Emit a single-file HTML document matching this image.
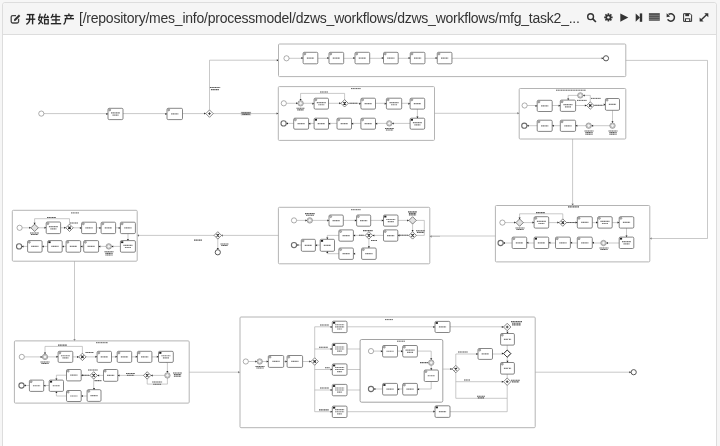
<!DOCTYPE html>
<html><head><meta charset="utf-8">
<style>
html,body{margin:0;padding:0;background:#f6f6f6;width:720px;height:446px;overflow:hidden}
body{font-family:"Liberation Sans",sans-serif;position:relative}
.panel{position:absolute;left:2px;top:2px;width:713px;height:460px;border:1px solid #ddd;border-radius:3px;background:#fff}
.hd{position:absolute;left:0;top:0;right:0;height:31px;background:#f5f5f5;border-bottom:1px solid #ddd;border-radius:3px 3px 0 0}
.title{position:absolute;left:78.6px;top:10.4px;font-size:14px;color:#333;white-space:nowrap;letter-spacing:-0.235px;will-change:transform}
svg{position:absolute;left:0;top:0}
</style></head><body>
<div class="panel"><div class="hd"></div></div>
<div class="title">[/repository/mes_info/processmodel/dzws_workflows/dzws_workflows/mfg_task2_...</div>
<svg width="720" height="446" viewBox="0 0 720 446">
<defs><marker id="ar" viewBox="0 0 10 10" refX="9" refY="5" markerWidth="1.8" markerHeight="1.8" markerUnits="userSpaceOnUse" orient="auto"><path d="M0,0L10,5L0,10z" fill="#222"/></marker></defs>

<g fill="none" stroke="#333" stroke-linecap="butt">
<!-- edit icon -->
<path d="M18.6,18.8 V21.6 Q18.6,23 17.2,23 H12.6 Q11.2,23 11.2,21.6 V17 Q11.2,15.6 12.6,15.6 H16" stroke="#444" stroke-width="1.3"/>
<path d="M14.6,20.3 L19.6,15.3" stroke="#333" stroke-width="2"/>
<path d="M13.9,21.3 L14.3,19.7 L15.3,20.7 Z" fill="#333" stroke="none"/>
<!-- 开 -->
<g stroke-width="1.4" stroke="#262626">
<path d="M26.8,14.6 H34.4"/>
<path d="M25.9,19.2 H35.3"/>
<path d="M29.7,14.6 V19.5 Q29.5,22.6 26.4,24.3"/>
<path d="M32.6,14.6 V24.4"/>
</g>
<!-- 始 -->
<g stroke-width="1.3" stroke="#262626">
<path d="M40.2,13.6 Q39.6,17.5 38.6,19.8 Q41.5,21.5 43,24"/>
<path d="M41.8,16.6 Q41.6,21.6 38.4,24.2"/>
<path d="M38.1,17.2 H43.4"/>
<path d="M45.6,13.7 L44.1,17.8 L48.4,17.4"/>
<path d="M47.2,15.6 L48.5,17.8"/>
<path d="M44.6,19.6 H48.2 V23.8 H44.6 Z"/>
</g>
<!-- 生 -->
<g stroke-width="1.35" stroke="#262626">
<path d="M53,13.8 Q52.4,16.4 50.9,18"/>
<path d="M52.2,16.6 H60.3"/>
<path d="M51.7,19.9 H60"/>
<path d="M50.8,23.7 H61.2"/>
<path d="M56,13.7 V23.7"/>
</g>
<!-- 产 -->
<g stroke-width="1.35" stroke="#262626">
<path d="M68.6,13.4 L69.2,15"/>
<path d="M64.3,15.6 H73.5"/>
<path d="M66.4,16.3 L67.2,18"/>
<path d="M71.3,16.3 L70.4,18"/>
<path d="M64.8,18.7 H74"/>
<path d="M65.5,18.7 V21 Q65.3,23 63.6,24.4"/>
</g>
</g>
<g fill="#333" stroke="none">
<!-- search -->
<circle cx="590.6" cy="16.7" r="2.9" fill="none" stroke="#333" stroke-width="1.4"/>
<path d="M592.6,18.7 L595.9,22" stroke="#333" stroke-width="1.7" fill="none"/>
<!-- gear -->
<g transform="translate(608.4,17.4)">
<circle r="2.9"/>
<g stroke="#333" stroke-width="1.6">
<path d="M0,-4.2V4.2M-4.2,0H4.2M-3,-3L3,3M3,-3L-3,3"/>
</g>
<circle r="1.2" fill="#f5f5f5"/>
</g>
<!-- play -->
<path d="M620.3,13.4 L628.3,17.6 L620.3,21.8 Z"/>
<!-- step forward -->
<path d="M635.7,13.4 L640,17.6 L635.7,21.8 Z"/>
<rect x="639.8" y="13.4" width="2.4" height="8.4"/>
<!-- list -->
<rect x="648.9" y="13.1" width="10.9" height="7.7" fill="#555"/>
<g fill="#999"><rect x="648.9" y="15" width="10.9" height="0.45"/><rect x="648.9" y="17" width="10.9" height="0.45"/><rect x="648.9" y="19" width="10.9" height="0.45"/></g>
<!-- undo -->
<path d="M668.6,14.4 A3.7,3.7 0 1 1 667.6,19.4" fill="none" stroke="#333" stroke-width="1.5"/>
<path d="M666.6,13.2 L670.2,16.4 L666.6,17.2 Z"/>
<!-- save -->
<path d="M683.6,13.7 H690.2 L691.6,15.1 V21.4 H683.6 Z" fill="none" stroke="#333" stroke-width="1.0"/>
<rect x="685.3" y="13.8" width="3.8" height="2.4"/>
<rect x="684.9" y="18.3" width="5.4" height="3" fill="#333"/>
<rect x="686" y="19.2" width="3.2" height="1.8" fill="#f5f5f5"/>
<!-- expand -->
<path d="M700.8,20.3 L707.1,14.3" stroke="#333" stroke-width="1.4" fill="none"/>
<path d="M708.3,13.2 L708.3,17.2 L704.3,13.2 Z"/>
<path d="M699.6,21.4 L699.6,17.4 L703.6,21.4 Z"/>
</g>
<polyline points="43.80,113.60 108.00,113.60" fill="none" stroke="#a4a4a4" stroke-width="0.6"/>
<polyline points="123.00,113.60 167.00,113.60" fill="none" stroke="#a4a4a4" stroke-width="0.6"/>
<polyline points="182.50,113.60 206.30,113.60" fill="none" stroke="#a4a4a4" stroke-width="0.6"/>
<polyline points="209.50,110.30 209.50,60.20 278.50,60.20" fill="none" stroke="#a4a4a4" stroke-width="0.6"/>
<polyline points="212.80,113.60 278.30,113.60" fill="none" stroke="#a4a4a4" stroke-width="0.6"/>
<circle cx="41.30" cy="113.60" r="2.6" fill="#fff" stroke="#777" stroke-width="0.6"/>
<rect x="108.00" y="108.30" width="15.00" height="11.30" rx="1.2" fill="#fff" stroke="#5e5e5e" stroke-width="0.75"/>
<polygon points="108.00,113.95 106.30,112.93 106.30,114.97" fill="#222"/>
<circle cx="109.70" cy="109.90" r="1.0" fill="#bbb" stroke="#777" stroke-width="0.6"/>
<path d="M111.00,112.85h9.00" stroke="#7c7c7c" stroke-width="1.20" stroke-dasharray="1.3 0.35"/>
<path d="M112.50,115.05h6.00" stroke="#7c7c7c" stroke-width="1.20" stroke-dasharray="1.3 0.35"/>
<rect x="167.00" y="108.30" width="15.50" height="11.30" rx="1.2" fill="#fff" stroke="#5e5e5e" stroke-width="0.75"/>
<polygon points="167.00,113.95 165.30,112.93 165.30,114.97" fill="#222"/>
<circle cx="168.70" cy="109.90" r="1.0" fill="#bbb" stroke="#777" stroke-width="0.6"/>
<path d="M171.15,113.95h7.20" stroke="#7c7c7c" stroke-width="1.20" stroke-dasharray="1.3 0.35"/>
<polygon points="205.80,113.60 204.10,112.58 204.10,114.62" fill="#222"/>
<polygon points="209.50,109.90 213.20,113.60 209.50,117.30 205.80,113.60" fill="#fff" stroke="#555" stroke-width="0.7"/>
<path d="M208.20,113.60L210.80,113.60M209.50,112.30L209.50,114.90" stroke="#333" stroke-width="0.9"/>
<path d="M209.90,87.45h10.30" stroke="#5c5c5c" stroke-width="1.08" stroke-dasharray="1.3 0.35"/>
<path d="M210.93,89.65h8.24" stroke="#5c5c5c" stroke-width="1.08" stroke-dasharray="1.3 0.35"/>
<rect x="240.8" y="111.8" width="10.3" height="3.6" fill="#c6c6c6"/>
<path d="M241.50,112.85h9.00" stroke="#5c5c5c" stroke-width="1.08" stroke-dasharray="1.3 0.35"/>
<path d="M242.40,114.35h7.20" stroke="#5c5c5c" stroke-width="1.08" stroke-dasharray="1.3 0.35"/>
<polygon points="278.50,60.20 276.80,59.18 276.80,61.22" fill="#222"/>
<polygon points="278.30,113.60 276.60,112.58 276.60,114.62" fill="#222"/>
<polygon points="519.20,113.30 517.50,112.28 517.50,114.32" fill="#222"/>
<polygon points="240.00,372.20 238.30,371.18 238.30,373.22" fill="#222"/>
<polygon points="649.80,238.50 651.50,237.48 651.50,239.52" fill="#222"/>
<polygon points="429.80,236.40 431.50,235.38 431.50,237.42" fill="#222"/>
<polygon points="137.30,235.40 139.00,234.38 139.00,236.42" fill="#222"/>
<polygon points="221.10,235.40 222.80,234.38 222.80,236.42" fill="#222"/>
<polygon points="74.50,340.90 73.48,339.20 75.52,339.20" fill="#222"/>
<polygon points="572.60,205.50 571.58,203.80 573.62,203.80" fill="#222"/>
<rect x="278.50" y="44.00" width="347.30" height="32.60" rx="1" fill="none" stroke="#b4b4b4" stroke-width="1.0"/>
<polyline points="289.00,58.30 603.40,58.30" fill="none" stroke="#a4a4a4" stroke-width="0.6"/>
<circle cx="286.50" cy="58.30" r="2.6" fill="#fff" stroke="#777" stroke-width="0.6"/>
<rect x="303.10" y="52.30" width="14.70" height="11.50" rx="1.2" fill="#fff" stroke="#5e5e5e" stroke-width="0.75"/>
<polygon points="303.10,58.05 301.40,57.03 301.40,59.07" fill="#222"/>
<circle cx="304.80" cy="53.90" r="1.0" fill="#bbb" stroke="#777" stroke-width="0.6"/>
<path d="M306.85,58.05h7.20" stroke="#7c7c7c" stroke-width="1.20" stroke-dasharray="1.3 0.35"/>
<rect x="329.00" y="52.30" width="14.70" height="11.50" rx="1.2" fill="#fff" stroke="#5e5e5e" stroke-width="0.75"/>
<polygon points="329.00,58.05 327.30,57.03 327.30,59.07" fill="#222"/>
<circle cx="330.70" cy="53.90" r="1.0" fill="#bbb" stroke="#777" stroke-width="0.6"/>
<path d="M332.75,58.05h7.20" stroke="#7c7c7c" stroke-width="1.20" stroke-dasharray="1.3 0.35"/>
<rect x="355.00" y="52.30" width="14.70" height="11.50" rx="1.2" fill="#fff" stroke="#5e5e5e" stroke-width="0.75"/>
<polygon points="355.00,58.05 353.30,57.03 353.30,59.07" fill="#222"/>
<circle cx="356.70" cy="53.90" r="1.0" fill="#bbb" stroke="#777" stroke-width="0.6"/>
<path d="M358.75,58.05h7.20" stroke="#7c7c7c" stroke-width="1.20" stroke-dasharray="1.3 0.35"/>
<rect x="383.50" y="52.30" width="14.70" height="11.50" rx="1.2" fill="#fff" stroke="#5e5e5e" stroke-width="0.75"/>
<polygon points="383.50,58.05 381.80,57.03 381.80,59.07" fill="#222"/>
<circle cx="385.20" cy="53.90" r="1.0" fill="#bbb" stroke="#777" stroke-width="0.6"/>
<path d="M387.25,58.05h7.20" stroke="#7c7c7c" stroke-width="1.20" stroke-dasharray="1.3 0.35"/>
<rect x="410.25" y="52.30" width="14.70" height="11.50" rx="1.2" fill="#fff" stroke="#5e5e5e" stroke-width="0.75"/>
<polygon points="410.25,58.05 408.55,57.03 408.55,59.07" fill="#222"/>
<circle cx="411.95" cy="53.90" r="1.0" fill="#bbb" stroke="#777" stroke-width="0.6"/>
<path d="M414.00,58.05h7.20" stroke="#7c7c7c" stroke-width="1.20" stroke-dasharray="1.3 0.35"/>
<rect x="437.25" y="52.30" width="14.70" height="11.50" rx="1.2" fill="#fff" stroke="#5e5e5e" stroke-width="0.75"/>
<polygon points="437.25,58.05 435.55,57.03 435.55,59.07" fill="#222"/>
<circle cx="438.95" cy="53.90" r="1.0" fill="#bbb" stroke="#777" stroke-width="0.6"/>
<path d="M441.00,58.05h7.20" stroke="#7c7c7c" stroke-width="1.20" stroke-dasharray="1.3 0.35"/>
<polygon points="603.40,58.30 601.70,57.28 601.70,59.32" fill="#222"/>
<circle cx="606.00" cy="58.30" r="2.6" fill="#fff" stroke="#555" stroke-width="1.0"/>
<polyline points="625.80,60.40 707.50,60.40 707.50,238.50 649.80,238.50" fill="none" stroke="#a4a4a4" stroke-width="0.6"/>
<rect x="278.30" y="86.60" width="156.20" height="53.80" rx="1" fill="none" stroke="#b4b4b4" stroke-width="1.0"/>
<polyline points="286.40,103.30 410.10,103.30" fill="none" stroke="#a4a4a4" stroke-width="0.6"/>
<polyline points="300.60,100.60 300.60,93.40 344.60,93.40 344.60,100.00" fill="none" stroke="#a4a4a4" stroke-width="0.6"/>
<polyline points="286.40,123.40 410.10,123.40" fill="none" stroke="#a4a4a4" stroke-width="0.6"/>
<polyline points="417.40,109.10 417.40,118.20" fill="none" stroke="#a4a4a4" stroke-width="0.6"/>
<polyline points="434.50,113.30 519.20,113.30" fill="none" stroke="#a4a4a4" stroke-width="0.6"/>
<circle cx="283.80" cy="103.30" r="2.6" fill="#fff" stroke="#777" stroke-width="0.6"/>
<polygon points="297.90,103.30 296.20,102.28 296.20,104.32" fill="#222"/>
<circle cx="300.60" cy="103.30" r="2.7" fill="#f4f4f4" stroke="#6c6c6c" stroke-width="0.6"/>
<circle cx="300.60" cy="103.30" r="1.8000000000000003" fill="none" stroke="#888" stroke-width="0.5"/>
<polygon points="300.60,100.60 299.58,98.90 301.62,98.90" fill="#222"/>
<path d="M296.50,108.25h8.00" stroke="#5c5c5c" stroke-width="1.08" stroke-dasharray="1.3 0.35"/>
<path d="M297.30,109.85h6.40" stroke="#5c5c5c" stroke-width="1.08" stroke-dasharray="1.3 0.35"/>
<rect x="314.10" y="98.20" width="14.40" height="10.90" rx="1.2" fill="#fff" stroke="#5e5e5e" stroke-width="0.75"/>
<polygon points="314.10,103.65 312.40,102.63 312.40,104.67" fill="#222"/>
<circle cx="315.80" cy="99.80" r="1.0" fill="#bbb" stroke="#777" stroke-width="0.6"/>
<path d="M316.80,102.55h9.00" stroke="#7c7c7c" stroke-width="1.20" stroke-dasharray="1.3 0.35"/>
<path d="M318.30,104.75h6.00" stroke="#7c7c7c" stroke-width="1.20" stroke-dasharray="1.3 0.35"/>
<polygon points="340.90,103.30 339.20,102.28 339.20,104.32" fill="#222"/>
<polygon points="344.60,99.60 348.30,103.30 344.60,107.00 340.90,103.30" fill="#fff" stroke="#555" stroke-width="0.7"/>
<path d="M343.40,102.10L345.80,104.50M345.80,102.10L343.40,104.50" stroke="#222" stroke-width="1.1"/>
<path d="M320.00,92.05h8.00" stroke="#5c5c5c" stroke-width="1.08" stroke-dasharray="1.3 0.35"/>
<path d="M349.50,103.25h8.00" stroke="#5c5c5c" stroke-width="1.08" stroke-dasharray="1.3 0.35"/>
<rect x="360.90" y="98.20" width="14.60" height="10.90" rx="1.2" fill="#fff" stroke="#5e5e5e" stroke-width="0.75"/>
<polygon points="360.90,103.65 359.20,102.63 359.20,104.67" fill="#222"/>
<circle cx="362.60" cy="99.80" r="1.0" fill="#bbb" stroke="#777" stroke-width="0.6"/>
<path d="M364.60,103.65h7.20" stroke="#7c7c7c" stroke-width="1.20" stroke-dasharray="1.3 0.35"/>
<rect x="386.40" y="98.20" width="15.30" height="10.90" rx="1.2" fill="#fff" stroke="#5e5e5e" stroke-width="0.75"/>
<polygon points="386.40,103.65 384.70,102.63 384.70,104.67" fill="#222"/>
<circle cx="388.10" cy="99.80" r="1.0" fill="#bbb" stroke="#777" stroke-width="0.6"/>
<path d="M389.55,102.55h9.00" stroke="#7c7c7c" stroke-width="1.20" stroke-dasharray="1.3 0.35"/>
<path d="M391.05,104.75h6.00" stroke="#7c7c7c" stroke-width="1.20" stroke-dasharray="1.3 0.35"/>
<rect x="410.10" y="98.20" width="14.60" height="10.90" rx="1.2" fill="#fff" stroke="#5e5e5e" stroke-width="0.75"/>
<polygon points="410.10,103.65 408.40,102.63 408.40,104.67" fill="#222"/>
<circle cx="411.80" cy="99.80" r="1.0" fill="#bbb" stroke="#777" stroke-width="0.6"/>
<path d="M413.80,103.65h7.20" stroke="#7c7c7c" stroke-width="1.20" stroke-dasharray="1.3 0.35"/>
<circle cx="283.60" cy="123.40" r="2.6" fill="#fff" stroke="#6c6c6c" stroke-width="1.1"/>
<polygon points="286.30,123.40 288.00,122.38 288.00,124.42" fill="#222"/>
<rect x="293.70" y="118.20" width="14.90" height="11.00" rx="1.2" fill="#fff" stroke="#5e5e5e" stroke-width="0.75"/>
<polygon points="308.60,123.70 310.30,122.68 310.30,124.72" fill="#222"/>
<circle cx="295.40" cy="119.80" r="1.0" fill="#bbb" stroke="#777" stroke-width="0.6"/>
<path d="M297.55,123.70h7.20" stroke="#7c7c7c" stroke-width="1.20" stroke-dasharray="1.3 0.35"/>
<rect x="314.10" y="118.20" width="14.40" height="11.00" rx="1.2" fill="#fff" stroke="#5e5e5e" stroke-width="0.75"/>
<polygon points="328.50,123.70 330.20,122.68 330.20,124.72" fill="#222"/>
<rect x="314.80" y="118.90" width="2.2" height="1.8" fill="#222"/>
<path d="M317.70,123.70h7.20" stroke="#7c7c7c" stroke-width="1.20" stroke-dasharray="1.3 0.35"/>
<rect x="337.00" y="118.20" width="14.50" height="11.00" rx="1.2" fill="#fff" stroke="#5e5e5e" stroke-width="0.75"/>
<polygon points="351.50,123.70 353.20,122.68 353.20,124.72" fill="#222"/>
<circle cx="338.70" cy="119.80" r="1.0" fill="#bbb" stroke="#777" stroke-width="0.6"/>
<path d="M340.65,123.70h7.20" stroke="#7c7c7c" stroke-width="1.20" stroke-dasharray="1.3 0.35"/>
<rect x="360.90" y="118.20" width="14.60" height="11.00" rx="1.2" fill="#fff" stroke="#5e5e5e" stroke-width="0.75"/>
<polygon points="375.50,123.70 377.20,122.68 377.20,124.72" fill="#222"/>
<circle cx="362.60" cy="119.80" r="1.0" fill="#bbb" stroke="#777" stroke-width="0.6"/>
<path d="M364.60,123.70h7.20" stroke="#7c7c7c" stroke-width="1.20" stroke-dasharray="1.3 0.35"/>
<polygon points="392.00,123.40 393.70,122.38 393.70,124.42" fill="#222"/>
<circle cx="389.30" cy="123.40" r="2.7" fill="#f4f4f4" stroke="#6c6c6c" stroke-width="0.6"/>
<circle cx="389.30" cy="123.40" r="1.8000000000000003" fill="none" stroke="#888" stroke-width="0.5"/>
<path d="M385.00,128.45h9.00" stroke="#5c5c5c" stroke-width="1.08" stroke-dasharray="1.3 0.35"/>
<path d="M385.90,130.05h7.20" stroke="#5c5c5c" stroke-width="1.08" stroke-dasharray="1.3 0.35"/>
<rect x="410.10" y="118.20" width="14.60" height="11.00" rx="1.2" fill="#fff" stroke="#5e5e5e" stroke-width="0.75"/>
<polygon points="417.40,118.20 416.38,116.50 418.42,116.50" fill="#222"/>
<rect x="410.80" y="118.90" width="2.2" height="1.8" fill="#222"/>
<path d="M412.90,122.60h9.00" stroke="#7c7c7c" stroke-width="1.20" stroke-dasharray="1.3 0.35"/>
<path d="M414.40,124.80h6.00" stroke="#7c7c7c" stroke-width="1.20" stroke-dasharray="1.3 0.35"/>
<path d="M351.00,88.60h10.00" stroke="#5c5c5c" stroke-width="0.96" stroke-dasharray="1.3 0.35"/>
<rect x="519.20" y="88.50" width="106.60" height="50.50" rx="1" fill="none" stroke="#b4b4b4" stroke-width="1.0"/>
<polyline points="527.20,105.50 605.40,105.50" fill="none" stroke="#a4a4a4" stroke-width="0.6"/>
<polyline points="568.20,100.10 568.20,95.40 590.30,95.40 590.30,102.40" fill="none" stroke="#a4a4a4" stroke-width="0.6"/>
<polyline points="527.00,125.70 612.50,125.70" fill="none" stroke="#a4a4a4" stroke-width="0.6"/>
<polyline points="612.50,110.30 612.50,123.00" fill="none" stroke="#a4a4a4" stroke-width="0.6"/>
<polyline points="572.60,139.00 572.60,205.50" fill="none" stroke="#a4a4a4" stroke-width="0.6"/>
<circle cx="524.60" cy="105.50" r="2.6" fill="#fff" stroke="#777" stroke-width="0.6"/>
<rect x="537.20" y="100.30" width="15.00" height="11.20" rx="1.2" fill="#fff" stroke="#5e5e5e" stroke-width="0.75"/>
<polygon points="537.20,105.90 535.50,104.88 535.50,106.92" fill="#222"/>
<circle cx="538.90" cy="101.90" r="1.0" fill="#bbb" stroke="#777" stroke-width="0.6"/>
<path d="M541.10,105.90h7.20" stroke="#7c7c7c" stroke-width="1.20" stroke-dasharray="1.3 0.35"/>
<rect x="560.30" y="100.10" width="15.30" height="11.30" rx="1.2" fill="#fff" stroke="#5e5e5e" stroke-width="0.75"/>
<polygon points="560.30,105.75 558.60,104.73 558.60,106.77" fill="#222"/>
<circle cx="562.00" cy="101.70" r="1.0" fill="#bbb" stroke="#777" stroke-width="0.6"/>
<path d="M563.45,104.65h9.00" stroke="#7c7c7c" stroke-width="1.20" stroke-dasharray="1.3 0.35"/>
<path d="M564.95,106.85h6.00" stroke="#7c7c7c" stroke-width="1.20" stroke-dasharray="1.3 0.35"/>
<polygon points="583.00,95.40 584.70,94.38 584.70,96.42" fill="#222"/>
<circle cx="580.30" cy="95.40" r="2.7" fill="#f4f4f4" stroke="#6c6c6c" stroke-width="0.6"/>
<circle cx="580.30" cy="95.40" r="1.8000000000000003" fill="none" stroke="#888" stroke-width="0.5"/>
<polygon points="568.20,100.10 567.18,98.40 569.22,98.40" fill="#222"/>
<path d="M577.00,100.40h10.00" stroke="#5c5c5c" stroke-width="0.96" stroke-dasharray="1.3 0.35"/>
<polygon points="586.60,105.50 584.90,104.48 584.90,106.52" fill="#222"/>
<polygon points="590.30,101.80 594.00,105.50 590.30,109.20 586.60,105.50" fill="#fff" stroke="#555" stroke-width="0.7"/>
<path d="M589.10,104.30L591.50,106.70M591.50,104.30L589.10,106.70" stroke="#222" stroke-width="1.1"/>
<path d="M591.00,98.40h10.00" stroke="#5c5c5c" stroke-width="0.96" stroke-dasharray="1.3 0.35"/>
<path d="M594.50,105.25h8.00" stroke="#5c5c5c" stroke-width="1.08" stroke-dasharray="1.3 0.35"/>
<rect x="605.40" y="98.50" width="14.10" height="11.80" rx="1.2" fill="#fff" stroke="#5e5e5e" stroke-width="0.75"/>
<polygon points="605.40,104.40 603.70,103.38 603.70,105.42" fill="#222"/>
<circle cx="607.10" cy="100.10" r="1.0" fill="#bbb" stroke="#777" stroke-width="0.6"/>
<path d="M608.85,104.40h7.20" stroke="#7c7c7c" stroke-width="1.20" stroke-dasharray="1.3 0.35"/>
<circle cx="524.30" cy="125.70" r="2.6" fill="#fff" stroke="#6c6c6c" stroke-width="1.1"/>
<polygon points="527.00,125.70 528.70,124.68 528.70,126.72" fill="#222"/>
<rect x="537.20" y="120.20" width="15.00" height="11.20" rx="1.2" fill="#fff" stroke="#5e5e5e" stroke-width="0.75"/>
<polygon points="552.20,125.80 553.90,124.78 553.90,126.82" fill="#222"/>
<circle cx="538.90" cy="121.80" r="1.0" fill="#bbb" stroke="#777" stroke-width="0.6"/>
<path d="M541.10,125.80h7.20" stroke="#7c7c7c" stroke-width="1.20" stroke-dasharray="1.3 0.35"/>
<rect x="560.30" y="120.20" width="15.30" height="11.20" rx="1.2" fill="#fff" stroke="#5e5e5e" stroke-width="0.75"/>
<polygon points="575.60,125.80 577.30,124.78 577.30,126.82" fill="#222"/>
<circle cx="562.00" cy="121.80" r="1.0" fill="#bbb" stroke="#777" stroke-width="0.6"/>
<path d="M564.35,125.80h7.20" stroke="#7c7c7c" stroke-width="1.20" stroke-dasharray="1.3 0.35"/>
<polygon points="591.40,125.70 593.10,124.68 593.10,126.72" fill="#222"/>
<circle cx="588.70" cy="125.70" r="2.7" fill="#f4f4f4" stroke="#6c6c6c" stroke-width="0.6"/>
<circle cx="588.70" cy="125.70" r="1.8000000000000003" fill="none" stroke="#888" stroke-width="0.5"/>
<path d="M584.50,131.05h9.00" stroke="#5c5c5c" stroke-width="1.08" stroke-dasharray="1.3 0.35"/>
<path d="M585.40,132.65h7.20" stroke="#5c5c5c" stroke-width="1.08" stroke-dasharray="1.3 0.35"/>
<path d="M585.40,134.25h7.20" stroke="#5c5c5c" stroke-width="1.08" stroke-dasharray="1.3 0.35"/>
<polygon points="612.50,123.00 611.48,121.30 613.52,121.30" fill="#222"/>
<circle cx="612.50" cy="125.70" r="2.7" fill="#f4f4f4" stroke="#6c6c6c" stroke-width="0.6"/>
<circle cx="612.50" cy="125.70" r="1.8000000000000003" fill="none" stroke="#888" stroke-width="0.5"/>
<path d="M608.50,131.05h9.00" stroke="#5c5c5c" stroke-width="1.08" stroke-dasharray="1.3 0.35"/>
<path d="M609.40,132.65h7.20" stroke="#5c5c5c" stroke-width="1.08" stroke-dasharray="1.3 0.35"/>
<path d="M609.40,134.25h7.20" stroke="#5c5c5c" stroke-width="1.08" stroke-dasharray="1.3 0.35"/>
<path d="M556.00,90.20h30.00" stroke="#5c5c5c" stroke-width="0.96" stroke-dasharray="1.3 0.35"/>
<rect x="495.40" y="205.50" width="154.40" height="56.40" rx="1" fill="none" stroke="#b4b4b4" stroke-width="1.0"/>
<polyline points="505.00,222.60 619.20,222.60" fill="none" stroke="#a4a4a4" stroke-width="0.6"/>
<polyline points="519.60,219.30 519.60,213.80 562.80,213.80 562.80,219.30" fill="none" stroke="#a4a4a4" stroke-width="0.6"/>
<polyline points="503.30,243.00 619.20,243.00" fill="none" stroke="#a4a4a4" stroke-width="0.6"/>
<polyline points="626.50,228.10 626.50,237.10" fill="none" stroke="#a4a4a4" stroke-width="0.6"/>
<polyline points="429.80,236.00 495.40,236.00" fill="none" stroke="#a4a4a4" stroke-width="0.6"/>
<circle cx="502.40" cy="222.60" r="2.6" fill="#fff" stroke="#777" stroke-width="0.6"/>
<polygon points="515.90,222.60 514.20,221.58 514.20,223.62" fill="#222"/>
<polygon points="519.60,218.90 523.30,222.60 519.60,226.30 515.90,222.60" fill="#e2e2e2" stroke="#555" stroke-width="0.7"/>
<polygon points="519.60,219.30 518.58,217.60 520.62,217.60" fill="#222"/>
<path d="M515.50,227.95h9.00" stroke="#5c5c5c" stroke-width="1.08" stroke-dasharray="1.3 0.35"/>
<path d="M516.40,229.55h7.20" stroke="#5c5c5c" stroke-width="1.08" stroke-dasharray="1.3 0.35"/>
<rect x="534.10" y="216.70" width="14.60" height="11.40" rx="1.2" fill="#fff" stroke="#5e5e5e" stroke-width="0.75"/>
<polygon points="534.10,222.40 532.40,221.38 532.40,223.42" fill="#222"/>
<circle cx="535.80" cy="218.30" r="1.0" fill="#bbb" stroke="#777" stroke-width="0.6"/>
<path d="M536.90,221.30h9.00" stroke="#7c7c7c" stroke-width="1.20" stroke-dasharray="1.3 0.35"/>
<path d="M538.40,223.50h6.00" stroke="#7c7c7c" stroke-width="1.20" stroke-dasharray="1.3 0.35"/>
<polygon points="559.10,222.60 557.40,221.58 557.40,223.62" fill="#222"/>
<polygon points="562.80,218.90 566.50,222.60 562.80,226.30 559.10,222.60" fill="#fff" stroke="#555" stroke-width="0.7"/>
<path d="M561.60,221.40L564.00,223.80M564.00,221.40L561.60,223.80" stroke="#222" stroke-width="1.1"/>
<path d="M566.50,222.45h9.00" stroke="#5c5c5c" stroke-width="1.08" stroke-dasharray="1.3 0.35"/>
<path d="M536.00,212.65h9.00" stroke="#5c5c5c" stroke-width="1.08" stroke-dasharray="1.3 0.35"/>
<rect x="577.30" y="216.70" width="15.00" height="11.40" rx="1.2" fill="#fff" stroke="#5e5e5e" stroke-width="0.75"/>
<polygon points="577.30,222.40 575.60,221.38 575.60,223.42" fill="#222"/>
<circle cx="579.00" cy="218.30" r="1.0" fill="#bbb" stroke="#777" stroke-width="0.6"/>
<path d="M581.20,222.40h7.20" stroke="#7c7c7c" stroke-width="1.20" stroke-dasharray="1.3 0.35"/>
<rect x="597.70" y="216.70" width="14.50" height="11.40" rx="1.2" fill="#fff" stroke="#5e5e5e" stroke-width="0.75"/>
<polygon points="597.70,222.40 596.00,221.38 596.00,223.42" fill="#222"/>
<circle cx="599.40" cy="218.30" r="1.0" fill="#bbb" stroke="#777" stroke-width="0.6"/>
<path d="M600.45,221.30h9.00" stroke="#7c7c7c" stroke-width="1.20" stroke-dasharray="1.3 0.35"/>
<path d="M601.95,223.50h6.00" stroke="#7c7c7c" stroke-width="1.20" stroke-dasharray="1.3 0.35"/>
<rect x="619.20" y="216.70" width="14.60" height="11.40" rx="1.2" fill="#fff" stroke="#5e5e5e" stroke-width="0.75"/>
<polygon points="619.20,222.40 617.50,221.38 617.50,223.42" fill="#222"/>
<circle cx="620.90" cy="218.30" r="1.0" fill="#bbb" stroke="#777" stroke-width="0.6"/>
<path d="M622.90,222.40h7.20" stroke="#7c7c7c" stroke-width="1.20" stroke-dasharray="1.3 0.35"/>
<circle cx="500.60" cy="243.00" r="2.6" fill="#fff" stroke="#6c6c6c" stroke-width="1.1"/>
<polygon points="503.30,243.00 505.00,241.98 505.00,244.02" fill="#222"/>
<rect x="512.10" y="237.10" width="14.60" height="11.40" rx="1.2" fill="#fff" stroke="#5e5e5e" stroke-width="0.75"/>
<polygon points="526.70,242.80 528.40,241.78 528.40,243.82" fill="#222"/>
<circle cx="513.80" cy="238.70" r="1.0" fill="#bbb" stroke="#777" stroke-width="0.6"/>
<path d="M515.80,242.80h7.20" stroke="#7c7c7c" stroke-width="1.20" stroke-dasharray="1.3 0.35"/>
<rect x="534.10" y="237.10" width="14.60" height="11.40" rx="1.2" fill="#fff" stroke="#5e5e5e" stroke-width="0.75"/>
<polygon points="548.70,242.80 550.40,241.78 550.40,243.82" fill="#222"/>
<rect x="534.80" y="237.80" width="2.2" height="1.8" fill="#222"/>
<path d="M537.80,242.80h7.20" stroke="#7c7c7c" stroke-width="1.20" stroke-dasharray="1.3 0.35"/>
<rect x="555.50" y="237.10" width="14.90" height="11.40" rx="1.2" fill="#fff" stroke="#5e5e5e" stroke-width="0.75"/>
<polygon points="570.40,242.80 572.10,241.78 572.10,243.82" fill="#222"/>
<circle cx="557.20" cy="238.70" r="1.0" fill="#bbb" stroke="#777" stroke-width="0.6"/>
<path d="M559.35,242.80h7.20" stroke="#7c7c7c" stroke-width="1.20" stroke-dasharray="1.3 0.35"/>
<rect x="577.30" y="237.10" width="15.00" height="11.40" rx="1.2" fill="#fff" stroke="#5e5e5e" stroke-width="0.75"/>
<polygon points="592.30,242.80 594.00,241.78 594.00,243.82" fill="#222"/>
<circle cx="579.00" cy="238.70" r="1.0" fill="#bbb" stroke="#777" stroke-width="0.6"/>
<path d="M581.20,242.80h7.20" stroke="#7c7c7c" stroke-width="1.20" stroke-dasharray="1.3 0.35"/>
<polygon points="606.20,243.00 607.90,241.98 607.90,244.02" fill="#222"/>
<circle cx="603.50" cy="243.00" r="2.7" fill="#f4f4f4" stroke="#6c6c6c" stroke-width="0.6"/>
<circle cx="603.50" cy="243.00" r="1.8000000000000003" fill="none" stroke="#888" stroke-width="0.5"/>
<path d="M599.50,247.95h9.00" stroke="#5c5c5c" stroke-width="1.08" stroke-dasharray="1.3 0.35"/>
<path d="M600.40,249.55h7.20" stroke="#5c5c5c" stroke-width="1.08" stroke-dasharray="1.3 0.35"/>
<rect x="619.20" y="237.10" width="14.60" height="11.40" rx="1.2" fill="#fff" stroke="#5e5e5e" stroke-width="0.75"/>
<polygon points="626.50,237.10 625.48,235.40 627.52,235.40" fill="#222"/>
<rect x="619.90" y="237.80" width="2.2" height="1.8" fill="#222"/>
<path d="M622.00,241.70h9.00" stroke="#7c7c7c" stroke-width="1.20" stroke-dasharray="1.3 0.35"/>
<path d="M623.50,243.90h6.00" stroke="#7c7c7c" stroke-width="1.20" stroke-dasharray="1.3 0.35"/>
<path d="M568.00,206.85h11.00" stroke="#5c5c5c" stroke-width="1.08" stroke-dasharray="1.3 0.35"/>
<rect x="278.40" y="207.30" width="151.40" height="56.50" rx="1" fill="none" stroke="#b4b4b4" stroke-width="1.0"/>
<polyline points="296.60,220.40 383.50,220.40" fill="none" stroke="#a4a4a4" stroke-width="0.6"/>
<polyline points="398.00,220.40 409.30,220.40" fill="none" stroke="#a4a4a4" stroke-width="0.6"/>
<polyline points="415.90,220.40 424.30,220.40 424.30,235.40 415.90,235.40" fill="none" stroke="#a4a4a4" stroke-width="0.6"/>
<polyline points="412.60,223.70 412.60,232.10" fill="none" stroke="#a4a4a4" stroke-width="0.6"/>
<polyline points="296.60,245.10 320.20,245.10" fill="none" stroke="#a4a4a4" stroke-width="0.6"/>
<polyline points="353.40,235.40 383.50,235.40" fill="none" stroke="#a4a4a4" stroke-width="0.6"/>
<polyline points="397.80,235.40 409.30,235.40" fill="none" stroke="#a4a4a4" stroke-width="0.6"/>
<polyline points="338.90,235.40 327.30,235.40 327.30,239.30" fill="none" stroke="#a4a4a4" stroke-width="0.6"/>
<polyline points="338.90,253.70 327.30,253.70 327.30,251.30" fill="none" stroke="#a4a4a4" stroke-width="0.6"/>
<polyline points="368.90,238.70 368.90,248.00" fill="none" stroke="#a4a4a4" stroke-width="0.6"/>
<polyline points="429.80,236.40 440.00,236.40" fill="none" stroke="#a4a4a4" stroke-width="0.6"/>
<polyline points="137.30,235.40 214.50,235.40" fill="none" stroke="#a4a4a4" stroke-width="0.6"/>
<polyline points="221.10,235.40 278.40,235.40" fill="none" stroke="#a4a4a4" stroke-width="0.6"/>
<polyline points="217.80,238.70 217.80,249.70" fill="none" stroke="#a4a4a4" stroke-width="0.6"/>
<circle cx="294.00" cy="220.40" r="2.6" fill="#fff" stroke="#777" stroke-width="0.6"/>
<polygon points="307.10,220.40 305.40,219.38 305.40,221.42" fill="#222"/>
<circle cx="309.80" cy="220.40" r="2.7" fill="#f4f4f4" stroke="#6c6c6c" stroke-width="0.6"/>
<circle cx="309.80" cy="220.40" r="1.8000000000000003" fill="none" stroke="#888" stroke-width="0.5"/>
<path d="M305.00,213.65h10.00" stroke="#5c5c5c" stroke-width="1.08" stroke-dasharray="1.3 0.35"/>
<path d="M306.00,215.25h8.00" stroke="#5c5c5c" stroke-width="1.08" stroke-dasharray="1.3 0.35"/>
<rect x="329.00" y="215.00" width="14.30" height="11.20" rx="1.2" fill="#fff" stroke="#5e5e5e" stroke-width="0.75"/>
<polygon points="329.00,220.60 327.30,219.58 327.30,221.62" fill="#222"/>
<circle cx="330.70" cy="216.60" r="1.0" fill="#bbb" stroke="#777" stroke-width="0.6"/>
<path d="M332.55,220.60h7.20" stroke="#7c7c7c" stroke-width="1.20" stroke-dasharray="1.3 0.35"/>
<rect x="356.60" y="215.00" width="14.10" height="11.20" rx="1.2" fill="#fff" stroke="#5e5e5e" stroke-width="0.75"/>
<polygon points="356.60,220.60 354.90,219.58 354.90,221.62" fill="#222"/>
<circle cx="358.30" cy="216.60" r="1.0" fill="#bbb" stroke="#777" stroke-width="0.6"/>
<path d="M360.05,220.60h7.20" stroke="#7c7c7c" stroke-width="1.20" stroke-dasharray="1.3 0.35"/>
<rect x="383.50" y="215.00" width="14.50" height="11.20" rx="1.2" fill="#fff" stroke="#5e5e5e" stroke-width="0.75"/>
<polygon points="383.50,220.60 381.80,219.58 381.80,221.62" fill="#222"/>
<rect x="384.20" y="215.70" width="2.2" height="1.8" fill="#222"/>
<path d="M386.25,219.50h9.00" stroke="#7c7c7c" stroke-width="1.20" stroke-dasharray="1.3 0.35"/>
<path d="M387.75,221.70h6.00" stroke="#7c7c7c" stroke-width="1.20" stroke-dasharray="1.3 0.35"/>
<polygon points="408.90,220.40 407.20,219.38 407.20,221.42" fill="#222"/>
<polygon points="412.60,216.70 416.30,220.40 412.60,224.10 408.90,220.40" fill="#e2e2e2" stroke="#555" stroke-width="0.7"/>
<path d="M408.00,211.85h9.00" stroke="#5c5c5c" stroke-width="1.08" stroke-dasharray="1.3 0.35"/>
<path d="M408.90,213.35h7.20" stroke="#5c5c5c" stroke-width="1.08" stroke-dasharray="1.3 0.35"/>
<path d="M408.90,214.85h7.20" stroke="#5c5c5c" stroke-width="1.08" stroke-dasharray="1.3 0.35"/>
<circle cx="294.00" cy="245.10" r="2.6" fill="#fff" stroke="#6c6c6c" stroke-width="1.1"/>
<polygon points="296.70,245.10 298.40,244.08 298.40,246.12" fill="#222"/>
<rect x="301.30" y="239.30" width="14.10" height="12.00" rx="1.2" fill="#fff" stroke="#5e5e5e" stroke-width="0.75"/>
<polygon points="315.40,245.30 317.10,244.28 317.10,246.32" fill="#222"/>
<circle cx="303.00" cy="240.90" r="1.0" fill="#bbb" stroke="#777" stroke-width="0.6"/>
<path d="M304.75,245.30h7.20" stroke="#7c7c7c" stroke-width="1.20" stroke-dasharray="1.3 0.35"/>
<rect x="320.20" y="239.30" width="14.30" height="12.00" rx="1.2" fill="#fff" stroke="#5e5e5e" stroke-width="0.75"/>
<rect x="320.90" y="240.00" width="2.2" height="1.8" fill="#222"/>
<path d="M323.75,245.30h7.20" stroke="#7c7c7c" stroke-width="1.20" stroke-dasharray="1.3 0.35"/>
<polygon points="327.30,239.30 326.28,237.60 328.32,237.60" fill="#222"/>
<polygon points="327.30,251.30 326.28,253.00 328.32,253.00" fill="#222"/>
<rect x="338.90" y="229.90" width="14.50" height="11.30" rx="1.2" fill="#fff" stroke="#5e5e5e" stroke-width="0.75"/>
<polygon points="353.40,235.55 355.10,234.53 355.10,236.57" fill="#222"/>
<circle cx="340.60" cy="231.50" r="1.0" fill="#bbb" stroke="#777" stroke-width="0.6"/>
<path d="M342.55,235.55h7.20" stroke="#7c7c7c" stroke-width="1.20" stroke-dasharray="1.3 0.35"/>
<rect x="338.90" y="248.00" width="14.50" height="11.40" rx="1.2" fill="#fff" stroke="#5e5e5e" stroke-width="0.75"/>
<polygon points="353.40,253.70 355.10,252.68 355.10,254.72" fill="#222"/>
<circle cx="340.60" cy="249.60" r="1.0" fill="#bbb" stroke="#777" stroke-width="0.6"/>
<path d="M342.55,253.70h7.20" stroke="#7c7c7c" stroke-width="1.20" stroke-dasharray="1.3 0.35"/>
<polygon points="372.60,235.40 374.30,234.38 374.30,236.42" fill="#222"/>
<polygon points="368.90,231.70 372.60,235.40 368.90,239.10 365.20,235.40" fill="#fff" stroke="#555" stroke-width="0.7"/>
<path d="M367.70,234.20L370.10,236.60M370.10,234.20L367.70,236.60" stroke="#222" stroke-width="1.1"/>
<path d="M363.00,230.65h10.00" stroke="#5c5c5c" stroke-width="1.08" stroke-dasharray="1.3 0.35"/>
<path d="M359.00,235.25h5.00" stroke="#5c5c5c" stroke-width="1.08" stroke-dasharray="1.3 0.35"/>
<path d="M371.00,240.45h6.00" stroke="#5c5c5c" stroke-width="1.08" stroke-dasharray="1.3 0.35"/>
<rect x="383.50" y="229.90" width="14.30" height="11.30" rx="1.2" fill="#fff" stroke="#5e5e5e" stroke-width="0.75"/>
<polygon points="397.80,235.55 399.50,234.53 399.50,236.57" fill="#222"/>
<circle cx="385.20" cy="231.50" r="1.0" fill="#bbb" stroke="#777" stroke-width="0.6"/>
<path d="M387.05,235.55h7.20" stroke="#7c7c7c" stroke-width="1.20" stroke-dasharray="1.3 0.35"/>
<polygon points="412.60,231.70 411.58,230.00 413.62,230.00" fill="#222"/>
<polygon points="412.60,231.70 416.30,235.40 412.60,239.10 408.90,235.40" fill="#fff" stroke="#555" stroke-width="0.7"/>
<path d="M411.40,234.20L413.80,236.60M413.80,234.20L411.40,236.60" stroke="#222" stroke-width="1.1"/>
<path d="M416.00,230.75h9.00" stroke="#5c5c5c" stroke-width="1.08" stroke-dasharray="1.3 0.35"/>
<path d="M416.90,232.35h7.20" stroke="#5c5c5c" stroke-width="1.08" stroke-dasharray="1.3 0.35"/>
<path d="M398.50,235.20h10.00" stroke="#5c5c5c" stroke-width="0.96" stroke-dasharray="1.3 0.35"/>
<rect x="361.60" y="248.00" width="14.60" height="11.40" rx="1.2" fill="#fff" stroke="#5e5e5e" stroke-width="0.75"/>
<polygon points="368.90,248.00 367.88,246.30 369.92,246.30" fill="#222"/>
<circle cx="363.30" cy="249.60" r="1.0" fill="#bbb" stroke="#777" stroke-width="0.6"/>
<path d="M365.30,253.70h7.20" stroke="#7c7c7c" stroke-width="1.20" stroke-dasharray="1.3 0.35"/>
<path d="M351.00,209.70h10.00" stroke="#5c5c5c" stroke-width="0.96" stroke-dasharray="1.3 0.35"/>
<polygon points="217.80,231.70 221.50,235.40 217.80,239.10 214.10,235.40" fill="#fff" stroke="#555" stroke-width="0.7"/>
<path d="M216.60,234.20L219.00,236.60M219.00,234.20L216.60,236.60" stroke="#222" stroke-width="1.1"/>
<polygon points="217.80,249.70 216.78,248.00 218.82,248.00" fill="#222"/>
<circle cx="217.80" cy="252.30" r="2.6" fill="#fff" stroke="#555" stroke-width="1.0"/>
<path d="M194.00,240.15h8.00" stroke="#5c5c5c" stroke-width="1.08" stroke-dasharray="1.3 0.35"/>
<path d="M220.50,243.95h8.00" stroke="#5c5c5c" stroke-width="1.08" stroke-dasharray="1.3 0.35"/>
<path d="M221.30,245.55h6.40" stroke="#5c5c5c" stroke-width="1.08" stroke-dasharray="1.3 0.35"/>
<rect x="12.30" y="210.30" width="124.90" height="50.90" rx="1" fill="none" stroke="#b4b4b4" stroke-width="1.0"/>
<polyline points="22.30,227.80 120.40,227.80" fill="none" stroke="#a4a4a4" stroke-width="0.6"/>
<polyline points="34.60,224.50 34.60,218.70 69.50,218.70 69.50,224.50" fill="none" stroke="#a4a4a4" stroke-width="0.6"/>
<polyline points="21.80,246.40 120.40,246.40" fill="none" stroke="#a4a4a4" stroke-width="0.6"/>
<polyline points="128.00,233.60 128.00,240.60" fill="none" stroke="#a4a4a4" stroke-width="0.6"/>
<polyline points="74.50,261.20 74.50,340.90" fill="none" stroke="#a4a4a4" stroke-width="0.6"/>
<circle cx="19.60" cy="227.80" r="2.6" fill="#fff" stroke="#777" stroke-width="0.6"/>
<polygon points="30.90,227.80 29.20,226.78 29.20,228.82" fill="#222"/>
<polygon points="34.60,224.10 38.30,227.80 34.60,231.50 30.90,227.80" fill="#e2e2e2" stroke="#555" stroke-width="0.7"/>
<polygon points="34.60,224.50 33.58,222.80 35.62,222.80" fill="#222"/>
<path d="M30.00,232.95h9.00" stroke="#5c5c5c" stroke-width="1.08" stroke-dasharray="1.3 0.35"/>
<path d="M30.90,234.55h7.20" stroke="#5c5c5c" stroke-width="1.08" stroke-dasharray="1.3 0.35"/>
<rect x="46.20" y="222.00" width="14.40" height="11.60" rx="1.2" fill="#fff" stroke="#5e5e5e" stroke-width="0.75"/>
<polygon points="46.20,227.80 44.50,226.78 44.50,228.82" fill="#222"/>
<circle cx="47.90" cy="223.60" r="1.0" fill="#bbb" stroke="#777" stroke-width="0.6"/>
<path d="M48.90,226.70h9.00" stroke="#7c7c7c" stroke-width="1.20" stroke-dasharray="1.3 0.35"/>
<path d="M50.40,228.90h6.00" stroke="#7c7c7c" stroke-width="1.20" stroke-dasharray="1.3 0.35"/>
<polygon points="65.80,227.80 64.10,226.78 64.10,228.82" fill="#222"/>
<polygon points="69.50,224.10 73.20,227.80 69.50,231.50 65.80,227.80" fill="#fff" stroke="#555" stroke-width="0.7"/>
<path d="M68.30,226.60L70.70,229.00M70.70,226.60L68.30,229.00" stroke="#222" stroke-width="1.1"/>
<path d="M70.00,222.95h8.00" stroke="#5c5c5c" stroke-width="1.08" stroke-dasharray="1.3 0.35"/>
<path d="M47.00,217.45h9.00" stroke="#5c5c5c" stroke-width="1.08" stroke-dasharray="1.3 0.35"/>
<rect x="81.60" y="222.20" width="14.80" height="11.40" rx="1.2" fill="#fff" stroke="#5e5e5e" stroke-width="0.75"/>
<polygon points="81.60,227.90 79.90,226.88 79.90,228.92" fill="#222"/>
<circle cx="83.30" cy="223.80" r="1.0" fill="#bbb" stroke="#777" stroke-width="0.6"/>
<path d="M85.40,227.90h7.20" stroke="#7c7c7c" stroke-width="1.20" stroke-dasharray="1.3 0.35"/>
<rect x="101.10" y="222.20" width="14.50" height="11.40" rx="1.2" fill="#fff" stroke="#5e5e5e" stroke-width="0.75"/>
<polygon points="101.10,227.90 99.40,226.88 99.40,228.92" fill="#222"/>
<circle cx="102.80" cy="223.80" r="1.0" fill="#bbb" stroke="#777" stroke-width="0.6"/>
<path d="M104.75,227.90h7.20" stroke="#7c7c7c" stroke-width="1.20" stroke-dasharray="1.3 0.35"/>
<rect x="120.40" y="222.20" width="15.00" height="11.40" rx="1.2" fill="#fff" stroke="#5e5e5e" stroke-width="0.75"/>
<polygon points="120.40,227.90 118.70,226.88 118.70,228.92" fill="#222"/>
<circle cx="122.10" cy="223.80" r="1.0" fill="#bbb" stroke="#777" stroke-width="0.6"/>
<path d="M124.30,227.90h7.20" stroke="#7c7c7c" stroke-width="1.20" stroke-dasharray="1.3 0.35"/>
<circle cx="19.10" cy="246.40" r="2.6" fill="#fff" stroke="#6c6c6c" stroke-width="1.1"/>
<polygon points="21.80,246.40 23.50,245.38 23.50,247.42" fill="#222"/>
<rect x="27.60" y="240.60" width="14.50" height="11.60" rx="1.2" fill="#fff" stroke="#5e5e5e" stroke-width="0.75"/>
<polygon points="42.10,246.40 43.80,245.38 43.80,247.42" fill="#222"/>
<circle cx="29.30" cy="242.20" r="1.0" fill="#bbb" stroke="#777" stroke-width="0.6"/>
<path d="M31.25,246.40h7.20" stroke="#7c7c7c" stroke-width="1.20" stroke-dasharray="1.3 0.35"/>
<rect x="47.70" y="240.60" width="14.50" height="11.60" rx="1.2" fill="#fff" stroke="#5e5e5e" stroke-width="0.75"/>
<polygon points="62.20,246.40 63.90,245.38 63.90,247.42" fill="#222"/>
<rect x="48.40" y="241.30" width="2.2" height="1.8" fill="#222"/>
<path d="M51.35,246.40h7.20" stroke="#7c7c7c" stroke-width="1.20" stroke-dasharray="1.3 0.35"/>
<rect x="66.10" y="240.60" width="14.60" height="11.60" rx="1.2" fill="#fff" stroke="#5e5e5e" stroke-width="0.75"/>
<polygon points="80.70,246.40 82.40,245.38 82.40,247.42" fill="#222"/>
<circle cx="67.80" cy="242.20" r="1.0" fill="#bbb" stroke="#777" stroke-width="0.6"/>
<path d="M69.80,246.40h7.20" stroke="#7c7c7c" stroke-width="1.20" stroke-dasharray="1.3 0.35"/>
<rect x="83.70" y="240.60" width="14.90" height="11.60" rx="1.2" fill="#fff" stroke="#5e5e5e" stroke-width="0.75"/>
<polygon points="98.60,246.40 100.30,245.38 100.30,247.42" fill="#222"/>
<circle cx="85.40" cy="242.20" r="1.0" fill="#bbb" stroke="#777" stroke-width="0.6"/>
<path d="M87.55,246.40h7.20" stroke="#7c7c7c" stroke-width="1.20" stroke-dasharray="1.3 0.35"/>
<polygon points="111.50,246.40 113.20,245.38 113.20,247.42" fill="#222"/>
<circle cx="108.80" cy="246.40" r="2.7" fill="#f4f4f4" stroke="#6c6c6c" stroke-width="0.6"/>
<circle cx="108.80" cy="246.40" r="1.8000000000000003" fill="none" stroke="#888" stroke-width="0.5"/>
<path d="M104.50,251.75h9.00" stroke="#5c5c5c" stroke-width="1.08" stroke-dasharray="1.3 0.35"/>
<path d="M105.40,253.35h7.20" stroke="#5c5c5c" stroke-width="1.08" stroke-dasharray="1.3 0.35"/>
<path d="M105.40,254.95h7.20" stroke="#5c5c5c" stroke-width="1.08" stroke-dasharray="1.3 0.35"/>
<rect x="120.40" y="240.60" width="15.00" height="11.60" rx="1.2" fill="#fff" stroke="#5e5e5e" stroke-width="0.75"/>
<polygon points="127.90,240.60 126.88,238.90 128.92,238.90" fill="#222"/>
<rect x="121.10" y="241.30" width="2.2" height="1.8" fill="#222"/>
<path d="M123.40,245.30h9.00" stroke="#7c7c7c" stroke-width="1.20" stroke-dasharray="1.3 0.35"/>
<path d="M124.90,247.50h6.00" stroke="#7c7c7c" stroke-width="1.20" stroke-dasharray="1.3 0.35"/>
<path d="M71.00,212.90h8.00" stroke="#5c5c5c" stroke-width="0.96" stroke-dasharray="1.3 0.35"/>
<rect x="14.40" y="340.90" width="174.80" height="62.20" rx="1" fill="none" stroke="#b4b4b4" stroke-width="1.0"/>
<polyline points="24.40,356.90 158.50,356.90" fill="none" stroke="#a4a4a4" stroke-width="0.6"/>
<polyline points="45.00,354.20 45.00,346.40 82.40,346.40 82.40,353.60" fill="none" stroke="#a4a4a4" stroke-width="0.6"/>
<polyline points="165.90,362.40 167.40,362.40 167.40,372.70" fill="none" stroke="#a4a4a4" stroke-width="0.6"/>
<polyline points="24.20,385.50 49.20,385.50" fill="none" stroke="#a4a4a4" stroke-width="0.6"/>
<polyline points="66.50,375.20 56.40,375.20 56.40,380.10" fill="none" stroke="#a4a4a4" stroke-width="0.6"/>
<polyline points="66.50,396.00 56.40,396.00 56.40,391.40" fill="none" stroke="#a4a4a4" stroke-width="0.6"/>
<polyline points="81.20,375.40 90.40,375.40" fill="none" stroke="#a4a4a4" stroke-width="0.6"/>
<polyline points="97.00,375.40 103.50,375.40" fill="none" stroke="#a4a4a4" stroke-width="0.6"/>
<polyline points="117.80,375.40 143.90,375.40" fill="none" stroke="#a4a4a4" stroke-width="0.6"/>
<polyline points="150.50,375.40 164.70,375.40" fill="none" stroke="#a4a4a4" stroke-width="0.6"/>
<polyline points="147.20,378.70 147.20,384.10 167.40,384.10 167.40,378.10" fill="none" stroke="#a4a4a4" stroke-width="0.6"/>
<polyline points="93.70,378.70 93.70,389.70" fill="none" stroke="#a4a4a4" stroke-width="0.6"/>
<polyline points="81.20,396.00 87.10,396.00" fill="none" stroke="#a4a4a4" stroke-width="0.6"/>
<polyline points="189.20,372.20 240.00,372.20" fill="none" stroke="#a4a4a4" stroke-width="0.6"/>
<circle cx="21.80" cy="356.90" r="2.6" fill="#fff" stroke="#777" stroke-width="0.6"/>
<polygon points="42.30,356.90 40.60,355.88 40.60,357.92" fill="#222"/>
<circle cx="45.00" cy="356.90" r="2.7" fill="#f4f4f4" stroke="#6c6c6c" stroke-width="0.6"/>
<circle cx="45.00" cy="356.90" r="1.8000000000000003" fill="none" stroke="#888" stroke-width="0.5"/>
<polygon points="45.00,354.20 43.98,352.50 46.02,352.50" fill="#222"/>
<path d="M40.50,361.95h9.00" stroke="#5c5c5c" stroke-width="1.08" stroke-dasharray="1.3 0.35"/>
<path d="M41.40,363.55h7.20" stroke="#5c5c5c" stroke-width="1.08" stroke-dasharray="1.3 0.35"/>
<rect x="58.10" y="351.30" width="14.70" height="11.10" rx="1.2" fill="#fff" stroke="#5e5e5e" stroke-width="0.75"/>
<polygon points="58.10,356.85 56.40,355.83 56.40,357.87" fill="#222"/>
<circle cx="59.80" cy="352.90" r="1.0" fill="#bbb" stroke="#777" stroke-width="0.6"/>
<path d="M60.95,355.75h9.00" stroke="#7c7c7c" stroke-width="1.20" stroke-dasharray="1.3 0.35"/>
<path d="M62.45,357.95h6.00" stroke="#7c7c7c" stroke-width="1.20" stroke-dasharray="1.3 0.35"/>
<polygon points="78.70,356.90 77.00,355.88 77.00,357.92" fill="#222"/>
<polygon points="82.40,353.20 86.10,356.90 82.40,360.60 78.70,356.90" fill="#fff" stroke="#555" stroke-width="0.7"/>
<path d="M81.20,355.70L83.60,358.10M83.60,355.70L81.20,358.10" stroke="#222" stroke-width="1.1"/>
<path d="M85.50,352.45h8.00" stroke="#5c5c5c" stroke-width="1.08" stroke-dasharray="1.3 0.35"/>
<path d="M58.00,345.15h9.00" stroke="#5c5c5c" stroke-width="1.08" stroke-dasharray="1.3 0.35"/>
<rect x="97.10" y="351.30" width="14.40" height="11.10" rx="1.2" fill="#fff" stroke="#5e5e5e" stroke-width="0.75"/>
<polygon points="97.10,356.85 95.40,355.83 95.40,357.87" fill="#222"/>
<circle cx="98.80" cy="352.90" r="1.0" fill="#bbb" stroke="#777" stroke-width="0.6"/>
<path d="M100.70,356.85h7.20" stroke="#7c7c7c" stroke-width="1.20" stroke-dasharray="1.3 0.35"/>
<rect x="117.20" y="351.30" width="14.50" height="11.10" rx="1.2" fill="#fff" stroke="#5e5e5e" stroke-width="0.75"/>
<polygon points="117.20,356.85 115.50,355.83 115.50,357.87" fill="#222"/>
<circle cx="118.90" cy="352.90" r="1.0" fill="#bbb" stroke="#777" stroke-width="0.6"/>
<path d="M120.85,356.85h7.20" stroke="#7c7c7c" stroke-width="1.20" stroke-dasharray="1.3 0.35"/>
<rect x="137.40" y="351.30" width="14.50" height="11.10" rx="1.2" fill="#fff" stroke="#5e5e5e" stroke-width="0.75"/>
<polygon points="137.40,356.85 135.70,355.83 135.70,357.87" fill="#222"/>
<circle cx="139.10" cy="352.90" r="1.0" fill="#bbb" stroke="#777" stroke-width="0.6"/>
<path d="M141.05,356.85h7.20" stroke="#7c7c7c" stroke-width="1.20" stroke-dasharray="1.3 0.35"/>
<rect x="158.50" y="351.30" width="14.80" height="11.10" rx="1.2" fill="#fff" stroke="#5e5e5e" stroke-width="0.75"/>
<polygon points="158.50,356.85 156.80,355.83 156.80,357.87" fill="#222"/>
<rect x="159.20" y="352.00" width="2.2" height="1.8" fill="#222"/>
<path d="M161.40,355.75h9.00" stroke="#7c7c7c" stroke-width="1.20" stroke-dasharray="1.3 0.35"/>
<path d="M162.90,357.95h6.00" stroke="#7c7c7c" stroke-width="1.20" stroke-dasharray="1.3 0.35"/>
<circle cx="21.50" cy="385.50" r="2.6" fill="#fff" stroke="#6c6c6c" stroke-width="1.1"/>
<polygon points="24.20,385.50 25.90,384.48 25.90,386.52" fill="#222"/>
<rect x="29.40" y="380.10" width="14.30" height="11.30" rx="1.2" fill="#fff" stroke="#5e5e5e" stroke-width="0.75"/>
<polygon points="43.70,385.75 45.40,384.73 45.40,386.77" fill="#222"/>
<circle cx="31.10" cy="381.70" r="1.0" fill="#bbb" stroke="#777" stroke-width="0.6"/>
<path d="M32.95,385.75h7.20" stroke="#7c7c7c" stroke-width="1.20" stroke-dasharray="1.3 0.35"/>
<rect x="49.20" y="380.10" width="14.30" height="11.30" rx="1.2" fill="#fff" stroke="#5e5e5e" stroke-width="0.75"/>
<rect x="49.90" y="380.80" width="2.2" height="1.8" fill="#222"/>
<path d="M52.75,385.75h7.20" stroke="#7c7c7c" stroke-width="1.20" stroke-dasharray="1.3 0.35"/>
<polygon points="56.40,380.10 55.38,378.40 57.42,378.40" fill="#222"/>
<polygon points="56.40,391.40 55.38,393.10 57.42,393.10" fill="#222"/>
<rect x="66.50" y="369.50" width="14.70" height="11.40" rx="1.2" fill="#fff" stroke="#5e5e5e" stroke-width="0.75"/>
<polygon points="81.20,375.20 82.90,374.18 82.90,376.22" fill="#222"/>
<circle cx="68.20" cy="371.10" r="1.0" fill="#bbb" stroke="#777" stroke-width="0.6"/>
<path d="M70.25,375.20h7.20" stroke="#7c7c7c" stroke-width="1.20" stroke-dasharray="1.3 0.35"/>
<rect x="66.50" y="390.50" width="14.70" height="11.00" rx="1.2" fill="#fff" stroke="#5e5e5e" stroke-width="0.75"/>
<polygon points="81.20,396.00 82.90,394.98 82.90,397.02" fill="#222"/>
<circle cx="68.20" cy="392.10" r="1.0" fill="#bbb" stroke="#777" stroke-width="0.6"/>
<path d="M70.25,396.00h7.20" stroke="#7c7c7c" stroke-width="1.20" stroke-dasharray="1.3 0.35"/>
<polygon points="97.40,375.40 99.10,374.38 99.10,376.42" fill="#222"/>
<polygon points="93.70,371.70 97.40,375.40 93.70,379.10 90.00,375.40" fill="#fff" stroke="#555" stroke-width="0.7"/>
<path d="M92.50,374.20L94.90,376.60M94.90,374.20L92.50,376.60" stroke="#222" stroke-width="1.1"/>
<path d="M88.00,369.95h10.00" stroke="#5c5c5c" stroke-width="1.08" stroke-dasharray="1.3 0.35"/>
<path d="M94.50,380.65h7.00" stroke="#5c5c5c" stroke-width="1.08" stroke-dasharray="1.3 0.35"/>
<path d="M83.00,375.25h6.00" stroke="#5c5c5c" stroke-width="1.08" stroke-dasharray="1.3 0.35"/>
<rect x="103.50" y="369.50" width="14.30" height="11.80" rx="1.2" fill="#fff" stroke="#5e5e5e" stroke-width="0.75"/>
<polygon points="117.80,375.40 119.50,374.38 119.50,376.42" fill="#222"/>
<circle cx="105.20" cy="371.10" r="1.0" fill="#bbb" stroke="#777" stroke-width="0.6"/>
<path d="M107.05,375.40h7.20" stroke="#7c7c7c" stroke-width="1.20" stroke-dasharray="1.3 0.35"/>
<path d="M126.00,373.45h9.00" stroke="#5c5c5c" stroke-width="1.08" stroke-dasharray="1.3 0.35"/>
<path d="M126.90,375.25h7.20" stroke="#5c5c5c" stroke-width="1.08" stroke-dasharray="1.3 0.35"/>
<polygon points="150.90,375.40 152.60,374.38 152.60,376.42" fill="#222"/>
<polygon points="147.20,371.70 150.90,375.40 147.20,379.10 143.50,375.40" fill="#fff" stroke="#555" stroke-width="0.7"/>
<path d="M146.00,374.20L148.40,376.60M148.40,374.20L146.00,376.60" stroke="#222" stroke-width="1.1"/>
<polygon points="167.40,372.70 166.38,371.00 168.42,371.00" fill="#222"/>
<circle cx="167.40" cy="375.40" r="2.7" fill="#f4f4f4" stroke="#6c6c6c" stroke-width="0.6"/>
<circle cx="167.40" cy="375.40" r="1.8000000000000003" fill="none" stroke="#888" stroke-width="0.5"/>
<path d="M173.00,373.05h9.00" stroke="#5c5c5c" stroke-width="1.08" stroke-dasharray="1.3 0.35"/>
<path d="M173.90,374.65h7.20" stroke="#5c5c5c" stroke-width="1.08" stroke-dasharray="1.3 0.35"/>
<path d="M173.90,376.25h7.20" stroke="#5c5c5c" stroke-width="1.08" stroke-dasharray="1.3 0.35"/>
<path d="M152.20,382.05h10.00" stroke="#5c5c5c" stroke-width="1.08" stroke-dasharray="1.3 0.35"/>
<path d="M153.20,384.25h8.00" stroke="#5c5c5c" stroke-width="1.08" stroke-dasharray="1.3 0.35"/>
<rect x="87.10" y="389.70" width="13.90" height="11.70" rx="1.2" fill="#fff" stroke="#5e5e5e" stroke-width="0.75"/>
<polygon points="94.05,389.70 93.03,388.00 95.07,388.00" fill="#222"/>
<circle cx="88.80" cy="391.30" r="1.0" fill="#bbb" stroke="#777" stroke-width="0.6"/>
<path d="M90.45,395.55h7.20" stroke="#7c7c7c" stroke-width="1.20" stroke-dasharray="1.3 0.35"/>
<path d="M96.00,342.70h12.00" stroke="#5c5c5c" stroke-width="0.96" stroke-dasharray="1.3 0.35"/>
<rect x="240.00" y="317.00" width="295.20" height="110.70" rx="1" fill="none" stroke="#b4b4b4" stroke-width="1.0"/>
<polyline points="535.20,372.20 631.00,372.20" fill="none" stroke="#a4a4a4" stroke-width="0.6"/>
<polygon points="631.10,372.20 629.40,371.18 629.40,373.22" fill="#222"/>
<circle cx="633.70" cy="372.20" r="2.6" fill="#fff" stroke="#555" stroke-width="1.0"/>
<polyline points="248.40,361.50 268.30,361.50" fill="none" stroke="#a4a4a4" stroke-width="0.6"/>
<polyline points="283.70,361.50 287.10,361.50" fill="none" stroke="#a4a4a4" stroke-width="0.6"/>
<polyline points="302.60,361.50 311.40,361.50" fill="none" stroke="#a4a4a4" stroke-width="0.6"/>
<polyline points="314.70,326.80 314.70,358.20" fill="none" stroke="#a4a4a4" stroke-width="0.6"/>
<polyline points="314.70,364.80 314.70,411.70" fill="none" stroke="#a4a4a4" stroke-width="0.6"/>
<polyline points="314.70,326.80 332.30,326.80" fill="none" stroke="#a4a4a4" stroke-width="0.6"/>
<rect x="332.30" y="321.20" width="14.70" height="11.40" rx="1.2" fill="#fff" stroke="#5e5e5e" stroke-width="0.75"/>
<polygon points="332.30,326.90 330.60,325.88 330.60,327.92" fill="#222"/>
<rect x="333.00" y="321.90" width="2.2" height="1.8" fill="#222"/>
<path d="M335.15,324.75h9.00" stroke="#7c7c7c" stroke-width="1.08" stroke-dasharray="1.3 0.35"/>
<path d="M335.15,326.85h9.00" stroke="#7c7c7c" stroke-width="1.08" stroke-dasharray="1.3 0.35"/>
<path d="M337.15,328.95h5.00" stroke="#7c7c7c" stroke-width="1.08" stroke-dasharray="1.3 0.35"/>
<polyline points="314.70,349.00 332.30,349.00" fill="none" stroke="#a4a4a4" stroke-width="0.6"/>
<rect x="332.30" y="343.40" width="14.70" height="11.40" rx="1.2" fill="#fff" stroke="#5e5e5e" stroke-width="0.75"/>
<polygon points="332.30,349.10 330.60,348.08 330.60,350.12" fill="#222"/>
<rect x="333.00" y="344.10" width="2.2" height="1.8" fill="#222"/>
<path d="M335.15,346.95h9.00" stroke="#7c7c7c" stroke-width="1.08" stroke-dasharray="1.3 0.35"/>
<path d="M335.15,349.05h9.00" stroke="#7c7c7c" stroke-width="1.08" stroke-dasharray="1.3 0.35"/>
<path d="M337.15,351.15h5.00" stroke="#7c7c7c" stroke-width="1.08" stroke-dasharray="1.3 0.35"/>
<polyline points="314.70,369.50 332.30,369.50" fill="none" stroke="#a4a4a4" stroke-width="0.6"/>
<rect x="332.30" y="363.90" width="14.70" height="11.40" rx="1.2" fill="#fff" stroke="#5e5e5e" stroke-width="0.75"/>
<polygon points="332.30,369.60 330.60,368.58 330.60,370.62" fill="#222"/>
<rect x="333.00" y="364.60" width="2.2" height="1.8" fill="#222"/>
<path d="M335.15,367.45h9.00" stroke="#7c7c7c" stroke-width="1.08" stroke-dasharray="1.3 0.35"/>
<path d="M335.15,369.55h9.00" stroke="#7c7c7c" stroke-width="1.08" stroke-dasharray="1.3 0.35"/>
<path d="M337.15,371.65h5.00" stroke="#7c7c7c" stroke-width="1.08" stroke-dasharray="1.3 0.35"/>
<polyline points="314.70,390.00 332.30,390.00" fill="none" stroke="#a4a4a4" stroke-width="0.6"/>
<rect x="332.30" y="384.40" width="14.70" height="11.40" rx="1.2" fill="#fff" stroke="#5e5e5e" stroke-width="0.75"/>
<polygon points="332.30,390.10 330.60,389.08 330.60,391.12" fill="#222"/>
<rect x="333.00" y="385.10" width="2.2" height="1.8" fill="#222"/>
<path d="M335.15,387.95h9.00" stroke="#7c7c7c" stroke-width="1.08" stroke-dasharray="1.3 0.35"/>
<path d="M335.15,390.05h9.00" stroke="#7c7c7c" stroke-width="1.08" stroke-dasharray="1.3 0.35"/>
<path d="M337.15,392.15h5.00" stroke="#7c7c7c" stroke-width="1.08" stroke-dasharray="1.3 0.35"/>
<polyline points="314.70,411.70 332.30,411.70" fill="none" stroke="#a4a4a4" stroke-width="0.6"/>
<rect x="332.30" y="406.10" width="14.70" height="11.40" rx="1.2" fill="#fff" stroke="#5e5e5e" stroke-width="0.75"/>
<polygon points="332.30,411.80 330.60,410.78 330.60,412.82" fill="#222"/>
<rect x="333.00" y="406.80" width="2.2" height="1.8" fill="#222"/>
<path d="M335.15,409.65h9.00" stroke="#7c7c7c" stroke-width="1.08" stroke-dasharray="1.3 0.35"/>
<path d="M335.15,411.75h9.00" stroke="#7c7c7c" stroke-width="1.08" stroke-dasharray="1.3 0.35"/>
<path d="M337.15,413.85h5.00" stroke="#7c7c7c" stroke-width="1.08" stroke-dasharray="1.3 0.35"/>
<polyline points="347.00,349.00 360.10,349.00" fill="none" stroke="#a4a4a4" stroke-width="0.6"/>
<polyline points="347.00,369.50 360.10,369.50" fill="none" stroke="#a4a4a4" stroke-width="0.6"/>
<polyline points="347.00,390.00 360.10,390.00" fill="none" stroke="#a4a4a4" stroke-width="0.6"/>
<path d="M320.00,325.05h9.00" stroke="#5c5c5c" stroke-width="1.08" stroke-dasharray="1.3 0.35"/>
<path d="M319.00,347.25h9.00" stroke="#5c5c5c" stroke-width="1.08" stroke-dasharray="1.3 0.35"/>
<path d="M325.00,367.75h5.00" stroke="#5c5c5c" stroke-width="1.08" stroke-dasharray="1.3 0.35"/>
<path d="M320.00,388.05h9.00" stroke="#5c5c5c" stroke-width="1.08" stroke-dasharray="1.3 0.35"/>
<path d="M319.00,409.85h10.00" stroke="#5c5c5c" stroke-width="1.08" stroke-dasharray="1.3 0.35"/>
<polygon points="257.00,361.50 255.30,360.48 255.30,362.52" fill="#222"/>
<circle cx="259.70" cy="361.50" r="2.7" fill="#f4f4f4" stroke="#6c6c6c" stroke-width="0.6"/>
<circle cx="259.70" cy="361.50" r="1.8000000000000003" fill="none" stroke="#888" stroke-width="0.5"/>
<path d="M255.50,366.45h9.00" stroke="#5c5c5c" stroke-width="1.08" stroke-dasharray="1.3 0.35"/>
<path d="M256.40,368.05h7.20" stroke="#5c5c5c" stroke-width="1.08" stroke-dasharray="1.3 0.35"/>
<rect x="268.30" y="355.50" width="15.40" height="11.90" rx="1.2" fill="#fff" stroke="#5e5e5e" stroke-width="0.75"/>
<polygon points="268.30,361.45 266.60,360.43 266.60,362.47" fill="#222"/>
<circle cx="270.00" cy="357.10" r="1.0" fill="#bbb" stroke="#777" stroke-width="0.6"/>
<path d="M272.40,361.45h7.20" stroke="#7c7c7c" stroke-width="1.20" stroke-dasharray="1.3 0.35"/>
<rect x="287.10" y="355.50" width="15.50" height="11.90" rx="1.2" fill="#fff" stroke="#5e5e5e" stroke-width="0.75"/>
<polygon points="287.10,361.45 285.40,360.43 285.40,362.47" fill="#222"/>
<circle cx="288.80" cy="357.10" r="1.0" fill="#bbb" stroke="#777" stroke-width="0.6"/>
<path d="M291.25,361.45h7.20" stroke="#7c7c7c" stroke-width="1.20" stroke-dasharray="1.3 0.35"/>
<polygon points="311.00,361.50 309.30,360.48 309.30,362.52" fill="#222"/>
<polygon points="314.70,357.80 318.40,361.50 314.70,365.20 311.00,361.50" fill="#fff" stroke="#555" stroke-width="0.7"/>
<path d="M313.50,360.30L315.90,362.70M315.90,360.30L313.50,362.70" stroke="#222" stroke-width="1.1"/>
<circle cx="245.80" cy="361.50" r="2.6" fill="#fff" stroke="#777" stroke-width="0.6"/>
<rect x="360.1" y="339.5" width="82.7" height="62.7" rx="1.5" fill="none" stroke="#8a8a8a" stroke-width="0.8"/>
<polyline points="373.60,351.10 382.60,351.10" fill="none" stroke="#a4a4a4" stroke-width="0.6"/>
<polyline points="397.50,351.10 402.70,351.10" fill="none" stroke="#a4a4a4" stroke-width="0.6"/>
<polyline points="417.40,351.10 431.20,351.10 431.20,360.00" fill="none" stroke="#a4a4a4" stroke-width="0.6"/>
<polyline points="431.20,365.40 431.20,370.00" fill="none" stroke="#a4a4a4" stroke-width="0.6"/>
<polyline points="431.20,381.50 431.20,389.00 417.40,389.00" fill="none" stroke="#a4a4a4" stroke-width="0.6"/>
<polyline points="373.60,389.00 382.60,389.00" fill="none" stroke="#a4a4a4" stroke-width="0.6"/>
<polyline points="397.50,389.00 402.70,389.00" fill="none" stroke="#a4a4a4" stroke-width="0.6"/>
<circle cx="371.00" cy="351.10" r="2.6" fill="#fff" stroke="#777" stroke-width="0.6"/>
<rect x="382.60" y="345.50" width="14.90" height="11.50" rx="1.2" fill="#fff" stroke="#5e5e5e" stroke-width="0.75"/>
<polygon points="382.60,351.25 380.90,350.23 380.90,352.27" fill="#222"/>
<circle cx="384.30" cy="347.10" r="1.0" fill="#bbb" stroke="#777" stroke-width="0.6"/>
<path d="M386.45,351.25h7.20" stroke="#7c7c7c" stroke-width="1.20" stroke-dasharray="1.3 0.35"/>
<rect x="402.70" y="345.50" width="14.70" height="11.50" rx="1.2" fill="#fff" stroke="#5e5e5e" stroke-width="0.75"/>
<polygon points="402.70,351.25 401.00,350.23 401.00,352.27" fill="#222"/>
<circle cx="404.40" cy="347.10" r="1.0" fill="#bbb" stroke="#777" stroke-width="0.6"/>
<path d="M405.55,350.15h9.00" stroke="#7c7c7c" stroke-width="1.20" stroke-dasharray="1.3 0.35"/>
<path d="M407.05,352.35h6.00" stroke="#7c7c7c" stroke-width="1.20" stroke-dasharray="1.3 0.35"/>
<polygon points="431.20,360.00 430.18,358.30 432.22,358.30" fill="#222"/>
<circle cx="431.20" cy="362.70" r="2.7" fill="#f4f4f4" stroke="#6c6c6c" stroke-width="0.6"/>
<circle cx="431.20" cy="362.70" r="1.8000000000000003" fill="none" stroke="#888" stroke-width="0.5"/>
<path d="M420.00,362.65h8.00" stroke="#5c5c5c" stroke-width="1.08" stroke-dasharray="1.3 0.35"/>
<rect x="424.20" y="370.00" width="14.20" height="11.50" rx="1.2" fill="#fff" stroke="#5e5e5e" stroke-width="0.75"/>
<polygon points="431.30,370.00 430.28,368.30 432.32,368.30" fill="#222"/>
<circle cx="425.90" cy="371.60" r="1.0" fill="#bbb" stroke="#777" stroke-width="0.6"/>
<path d="M427.70,375.75h7.20" stroke="#7c7c7c" stroke-width="1.20" stroke-dasharray="1.3 0.35"/>
<circle cx="371.00" cy="389.00" r="2.6" fill="#fff" stroke="#6c6c6c" stroke-width="1.1"/>
<polygon points="373.70,389.00 375.40,387.98 375.40,390.02" fill="#222"/>
<rect x="382.60" y="383.40" width="14.90" height="11.60" rx="1.2" fill="#fff" stroke="#5e5e5e" stroke-width="0.75"/>
<polygon points="397.50,389.20 399.20,388.18 399.20,390.22" fill="#222"/>
<rect x="383.30" y="384.10" width="2.2" height="1.8" fill="#222"/>
<path d="M386.45,389.20h7.20" stroke="#7c7c7c" stroke-width="1.20" stroke-dasharray="1.3 0.35"/>
<rect x="402.70" y="383.40" width="14.70" height="11.60" rx="1.2" fill="#fff" stroke="#5e5e5e" stroke-width="0.75"/>
<polygon points="417.40,389.20 419.10,388.18 419.10,390.22" fill="#222"/>
<circle cx="404.40" cy="385.00" r="1.0" fill="#bbb" stroke="#777" stroke-width="0.6"/>
<path d="M406.45,389.20h7.20" stroke="#7c7c7c" stroke-width="1.20" stroke-dasharray="1.3 0.35"/>
<path d="M397.00,341.20h8.00" stroke="#5c5c5c" stroke-width="0.96" stroke-dasharray="1.3 0.35"/>
<path d="M385.00,319.60h8.00" stroke="#5c5c5c" stroke-width="0.96" stroke-dasharray="1.3 0.35"/>
<polyline points="347.00,326.80 435.00,326.80" fill="none" stroke="#a4a4a4" stroke-width="0.6"/>
<polyline points="450.00,326.80 504.00,326.80" fill="none" stroke="#a4a4a4" stroke-width="0.6"/>
<rect x="435.00" y="321.40" width="15.00" height="11.10" rx="1.2" fill="#fff" stroke="#5e5e5e" stroke-width="0.75"/>
<polygon points="435.00,326.95 433.30,325.93 433.30,327.97" fill="#222"/>
<rect x="435.70" y="322.10" width="2.2" height="1.8" fill="#222"/>
<path d="M438.90,326.95h7.20" stroke="#7c7c7c" stroke-width="1.20" stroke-dasharray="1.3 0.35"/>
<polyline points="507.20,330.00 507.20,333.50" fill="none" stroke="#a4a4a4" stroke-width="0.6"/>
<polyline points="507.20,345.10 507.20,350.00" fill="none" stroke="#a4a4a4" stroke-width="0.6"/>
<polyline points="507.20,357.00 507.20,362.50" fill="none" stroke="#a4a4a4" stroke-width="0.6"/>
<polyline points="507.20,374.10 507.20,378.40" fill="none" stroke="#a4a4a4" stroke-width="0.6"/>
<polyline points="442.80,369.10 452.50,369.10" fill="none" stroke="#a4a4a4" stroke-width="0.6"/>
<polyline points="455.80,365.80 455.80,354.00 478.00,354.00" fill="none" stroke="#a4a4a4" stroke-width="0.6"/>
<polyline points="492.50,354.00 503.70,354.00" fill="none" stroke="#a4a4a4" stroke-width="0.6"/>
<polyline points="455.80,372.40 455.80,398.30 507.20,398.30 507.20,385.00" fill="none" stroke="#a4a4a4" stroke-width="0.6"/>
<polyline points="455.80,381.70 504.00,381.70" fill="none" stroke="#a4a4a4" stroke-width="0.6"/>
<polyline points="347.00,411.70 435.00,411.70" fill="none" stroke="#a4a4a4" stroke-width="0.6"/>
<polyline points="450.00,411.70 507.20,411.70 507.20,398.30" fill="none" stroke="#a4a4a4" stroke-width="0.6"/>
<rect x="435.00" y="405.80" width="15.00" height="11.60" rx="1.2" fill="#fff" stroke="#5e5e5e" stroke-width="0.75"/>
<polygon points="435.00,411.60 433.30,410.58 433.30,412.62" fill="#222"/>
<rect x="435.70" y="406.50" width="2.2" height="1.8" fill="#222"/>
<path d="M438.90,411.60h7.20" stroke="#7c7c7c" stroke-width="1.20" stroke-dasharray="1.3 0.35"/>
<polygon points="503.50,327.00 501.80,325.98 501.80,328.02" fill="#222"/>
<polygon points="507.20,323.30 510.90,327.00 507.20,330.70 503.50,327.00" fill="#fff" stroke="#555" stroke-width="0.7"/>
<path d="M505.90,327.00L508.50,327.00M507.20,325.70L507.20,328.30" stroke="#333" stroke-width="0.9"/>
<path d="M511.00,321.65h11.00" stroke="#5c5c5c" stroke-width="1.08" stroke-dasharray="1.3 0.35"/>
<path d="M512.10,323.25h8.80" stroke="#5c5c5c" stroke-width="1.08" stroke-dasharray="1.3 0.35"/>
<path d="M512.10,324.85h8.80" stroke="#5c5c5c" stroke-width="1.08" stroke-dasharray="1.3 0.35"/>
<rect x="500.60" y="333.50" width="13.80" height="11.60" rx="1.2" fill="#fff" stroke="#5e5e5e" stroke-width="0.75"/>
<polygon points="507.50,333.50 506.48,331.80 508.52,331.80" fill="#222"/>
<circle cx="502.30" cy="335.10" r="1.0" fill="#bbb" stroke="#777" stroke-width="0.6"/>
<path d="M503.90,339.30h7.20" stroke="#7c7c7c" stroke-width="1.20" stroke-dasharray="1.3 0.35"/>
<polygon points="503.60,353.60 501.90,352.58 501.90,354.62" fill="#222"/>
<polygon points="507.20,350.00 510.80,353.60 507.20,357.20 503.60,353.60" fill="#fff" stroke="#555" stroke-width="0.7"/>
<polygon points="507.20,350.00 510.80,353.60 507.20,357.20 503.60,353.60" fill="none" stroke="#444" stroke-width="1.0"/>
<rect x="500.60" y="362.50" width="13.80" height="11.60" rx="1.2" fill="#fff" stroke="#5e5e5e" stroke-width="0.75"/>
<polygon points="507.50,362.50 506.48,360.80 508.52,360.80" fill="#222"/>
<circle cx="502.30" cy="364.10" r="1.0" fill="#bbb" stroke="#777" stroke-width="0.6"/>
<path d="M503.90,368.30h7.20" stroke="#7c7c7c" stroke-width="1.20" stroke-dasharray="1.3 0.35"/>
<polygon points="503.50,381.70 501.80,380.68 501.80,382.72" fill="#222"/>
<polygon points="507.20,378.00 510.90,381.70 507.20,385.40 503.50,381.70" fill="#fff" stroke="#555" stroke-width="0.7"/>
<path d="M505.90,381.70L508.50,381.70M507.20,380.40L507.20,383.00" stroke="#333" stroke-width="0.9"/>
<path d="M511.00,380.25h9.00" stroke="#5c5c5c" stroke-width="1.08" stroke-dasharray="1.3 0.35"/>
<path d="M511.90,381.85h7.20" stroke="#5c5c5c" stroke-width="1.08" stroke-dasharray="1.3 0.35"/>
<polygon points="452.10,369.10 450.40,368.08 450.40,370.12" fill="#222"/>
<polygon points="455.80,365.40 459.50,369.10 455.80,372.80 452.10,369.10" fill="#fff" stroke="#555" stroke-width="0.7"/>
<path d="M454.60,367.90L457.00,370.30M457.00,367.90L454.60,370.30" stroke="#222" stroke-width="1.1"/>
<rect x="478.00" y="348.50" width="14.50" height="10.90" rx="1.2" fill="#fff" stroke="#5e5e5e" stroke-width="0.75"/>
<polygon points="478.00,353.95 476.30,352.93 476.30,354.97" fill="#222"/>
<circle cx="479.70" cy="350.10" r="1.0" fill="#bbb" stroke="#777" stroke-width="0.6"/>
<path d="M481.65,353.95h7.20" stroke="#7c7c7c" stroke-width="1.20" stroke-dasharray="1.3 0.35"/>
<path d="M458.00,352.05h10.00" stroke="#5c5c5c" stroke-width="1.08" stroke-dasharray="1.3 0.35"/>
<path d="M464.00,380.05h6.00" stroke="#5c5c5c" stroke-width="1.08" stroke-dasharray="1.3 0.35"/>
<path d="M477.00,396.25h8.00" stroke="#5c5c5c" stroke-width="1.08" stroke-dasharray="1.3 0.35"/>
<path d="M477.80,397.85h6.40" stroke="#5c5c5c" stroke-width="1.08" stroke-dasharray="1.3 0.35"/>
</svg>
</body></html>
